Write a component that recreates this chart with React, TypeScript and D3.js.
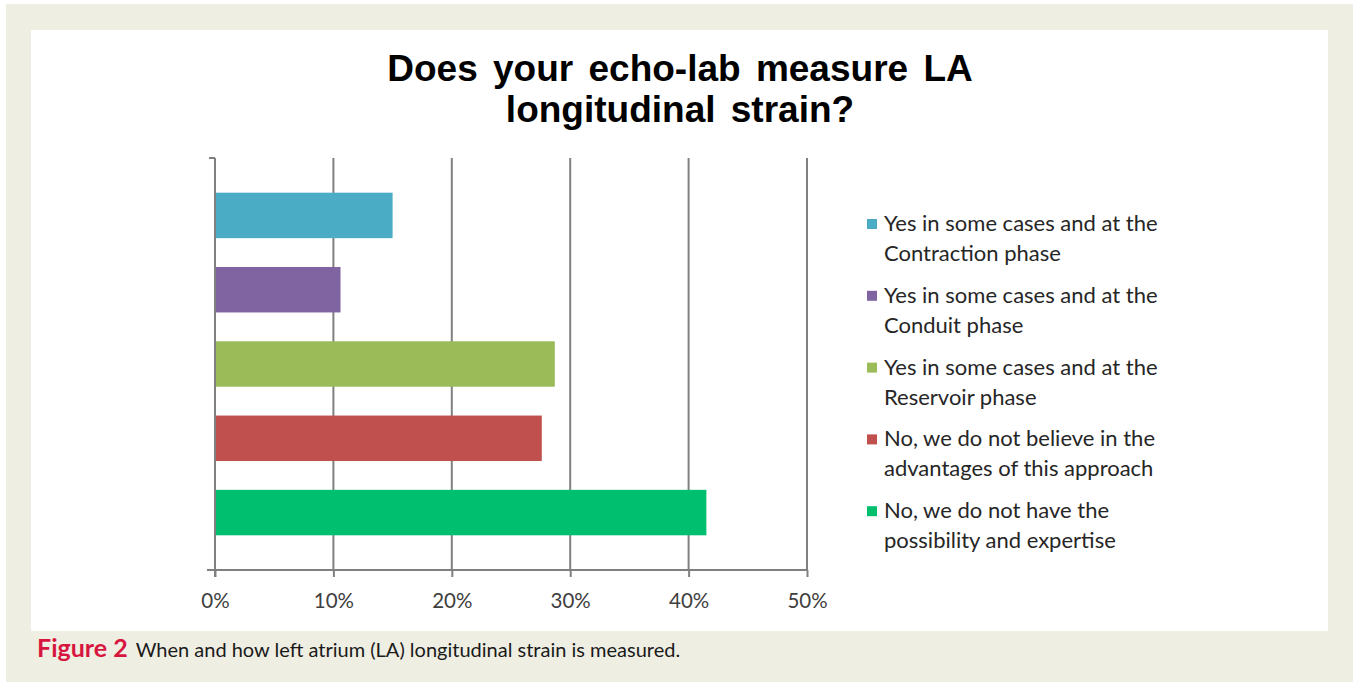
import { useEffect, useRef } from "react";
import * as d3 from "d3";

// Survey answers (percent of labs)
const answers = [
  "Yes in some cases and at the|Contraction phase",
  "Yes in some cases and at the|Conduit phase",
  "Yes in some cases and at the|Reservoir phase",
  "No, we do not believe in the|advantages of this approach",
  "No, we do not have the|possibility and expertise",
];
const shares = [15, 10.6, 28.7, 27.6, 41.5];
const colors = ["#4bacc6", "#8064a2", "#9bbb59", "#c0504d", "#00bf6f"];
const xTicks = [0, 10, 20, 30, 40, 50];
const titleLines = ["Does your echo-lab measure LA", "longitudinal strain?"];

export default function App() {
  const axisRef = useRef<SVGGElement>(null);

  const plot = { left: 215, right: 807, top: 158, bottom: 570 };

  const x = d3.scaleLinear().domain([0, 50]).range([plot.left, plot.right]);
  const y = d3
    .scaleBand<number>()
    .domain(d3.range(answers.length))
    .range([plot.top, plot.bottom])
    .paddingInner(0.388)
    .paddingOuter(0.467);

  useEffect(() => {
    if (!axisRef.current) return;
    const g = d3.select(axisRef.current);
    g.selectAll("*").remove();
    g.attr("transform", `translate(0,${plot.bottom})`)
      .call(
        d3
          .axisBottom(x)
          .tickValues(xTicks)
          .tickSize(7)
          .tickPadding(16)
          .tickFormat((d) => `${d}%`)
      );
    g.select(".domain").remove();
    g.selectAll(".tick line").attr("stroke", "#808080").attr("stroke-width", 2);
    g.selectAll(".tick text")
      .attr("fill", "#404040")
      .style("font-family", "Lato, 'Open Sans', sans-serif")
      .style("font-size", "20.5px");
  }, []);

  return (
    <svg
      width={1353}
      height={682}
      style={{ position: "absolute", left: 0, top: 0 }}
    >
      <rect width={1353} height={682} fill="#ffffff" />
      <rect x={6} y={4} width={1347} height={678} fill="#efeee3" />
      <rect x={31} y={30} width={1297} height={601} fill="#ffffff" />

      {/* Title */}
      <text
        x={680}
        textAnchor="middle"
        style={{
          fontFamily: "'Liberation Sans', Arial, sans-serif",
          fontWeight: 700,
          fontSize: 37,
          wordSpacing: 5,
        }}
        fill="#000"
      >
        {titleLines.map((t, i) => (
          <tspan key={i} x={680} y={81 + i * 41}>
            {t}
          </tspan>
        ))}
      </text>

      {/* Gridlines */}
      {xTicks.slice(1).map((t) => (
        <line
          key={t}
          x1={x(t)}
          x2={x(t)}
          y1={plot.top}
          y2={plot.bottom}
          stroke="#808080"
          strokeWidth={2}
        />
      ))}

      {/* Bars */}
      {shares.map((v, i) => (
        <rect
          key={i}
          x={x(0)}
          y={y(i)}
          width={x(v) - x(0)}
          height={y.bandwidth()}
          fill={colors[i]}
        />
      ))}

      {/* Axes lines */}
      <line x1={plot.left} x2={plot.left} y1={plot.top} y2={plot.bottom + 7} stroke="#808080" strokeWidth={2} />
      <line x1={plot.left - 6} x2={plot.left} y1={plot.top} y2={plot.top} stroke="#808080" strokeWidth={2} />
      <line x1={plot.left - 8} x2={plot.right} y1={plot.bottom} y2={plot.bottom} stroke="#808080" strokeWidth={2} />
      <g ref={axisRef} />

      {/* Legend */}
      {answers.map((a, i) => {
        const cy = 224 + i * 71.8;
        const lines = a.split("|");
        return (
          <g key={i}>
            <rect x={867} y={cy - 5} width={10} height={10} fill={colors[i]} />
            <text
              style={{ fontFamily: "Lato, 'Open Sans', sans-serif", fontSize: 22 }}
              fill="#262626"
            >
              {lines.map((l, j) => (
                <tspan key={j} x={884} y={cy + 7 + j * 30}>
                  {l}
                </tspan>
              ))}
            </text>
          </g>
        );
      })}

      {/* Caption */}
      <text x={37} y={657} style={{ fontFamily: "Lato, 'Open Sans', sans-serif", fontSize: 20 }} fill="#1a1a1a">
        <tspan fill="#d7163f" style={{ fontWeight: 700, fontSize: 25 }}>
          Figure 2
        </tspan>
        <tspan dx={8}>When and how left atrium (LA) longitudinal strain is measured.</tspan>
      </text>
    </svg>
  );
}
